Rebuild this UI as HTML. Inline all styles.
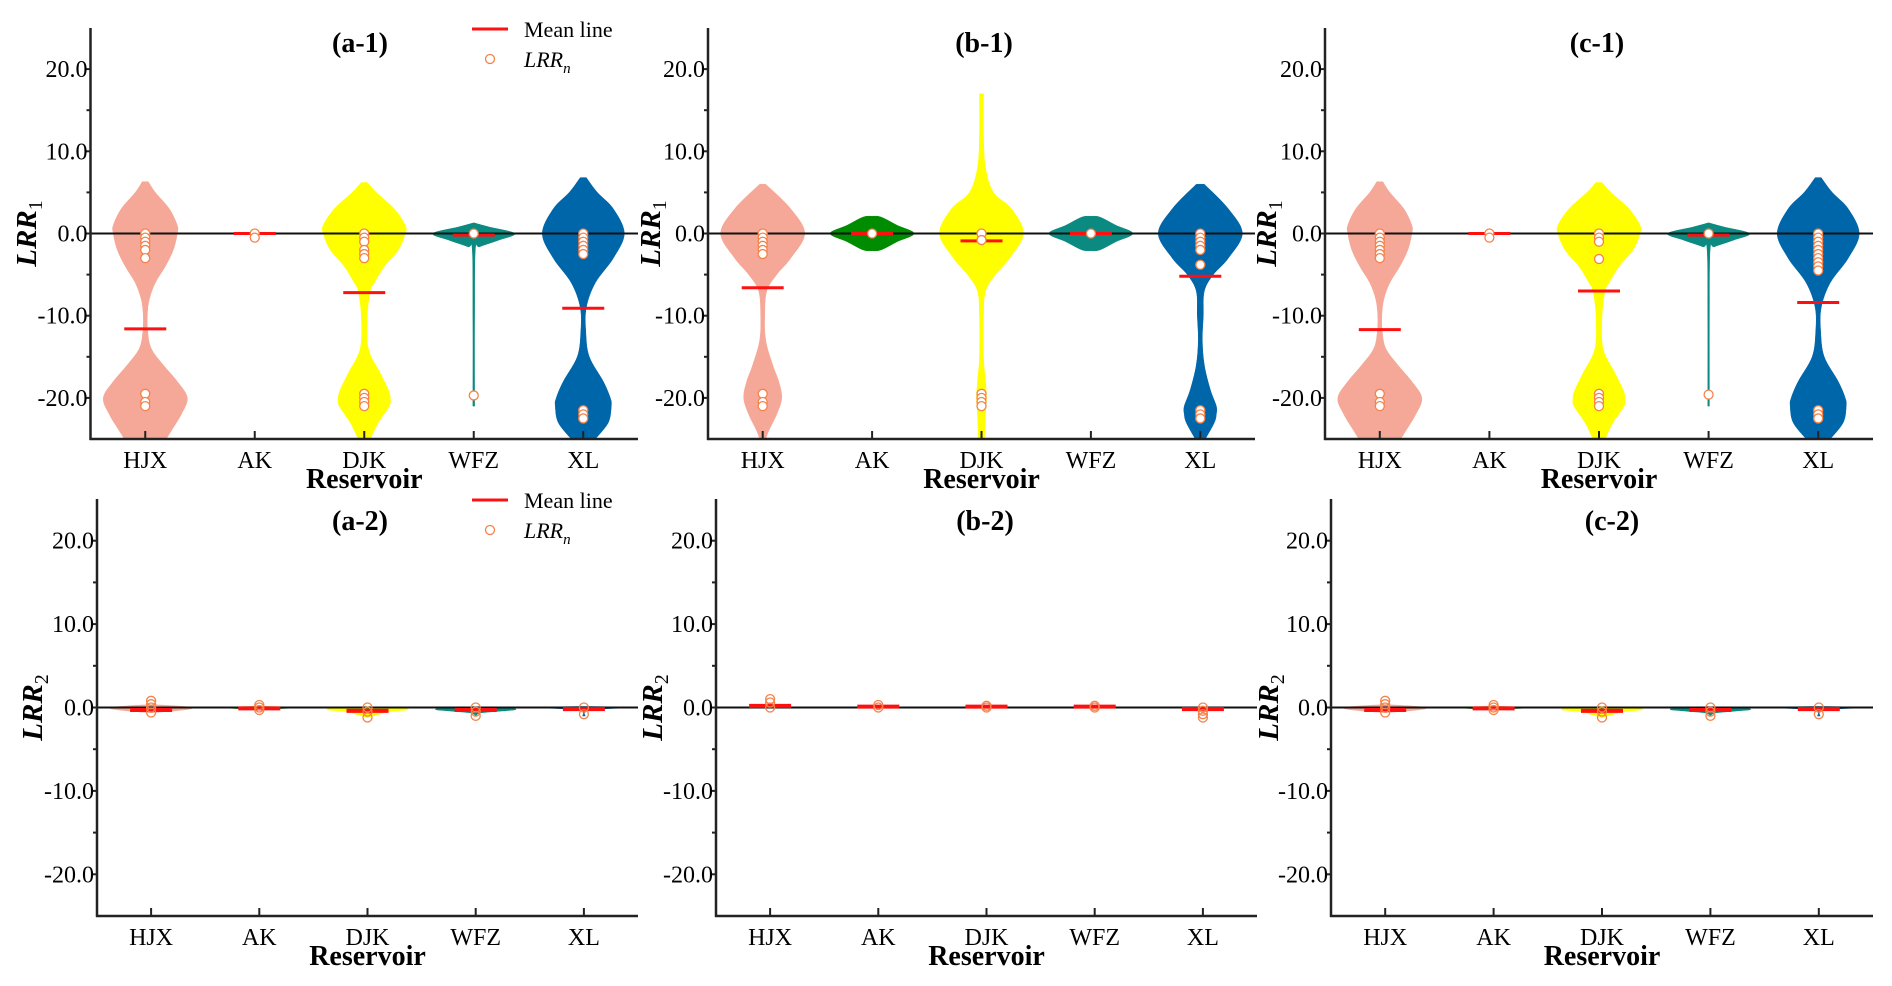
<!DOCTYPE html>
<html><head><meta charset="utf-8"><style>
html,body{margin:0;padding:0;background:#fff;}
svg{display:block;font-family:"Liberation Serif",serif;}
text{font-family:"Liberation Serif",serif;}
</style></head><body>
<svg id="fig" width="1892" height="986" viewBox="0 0 1892 986" xmlns="http://www.w3.org/2000/svg"></svg>
<script>
const categories = ["HJX","AK","DJK","WFZ","XL"];
const colors = ["#f5a898","#008c00","#ffff00","#0a8a80","#0066aa"];
const yTicks = [-20,-10,0,10,20];
const yMinorTicks = [-15,-5,5,15];

// ---- a-1 ----
const a1Means = [-11.6, 0, -7.2, -0.2, -9.1];
const a1Points = [[0,-0.5,-1,-1.5,-2,-3,-19.5,-20.5,-21],[0,-0.5],[0,-0.5,-1,-2,-2.5,-3,-19.5,-20,-20.5,-21],[0,-19.7],[0,-0.5,-1,-1.5,-2,-2.5,-21.5,-22,-22.5]];
const a1ProfV = [
 [6.3,5,3,1,0,-2,-4,-6,-8,-10,-12,-14,-16,-18,-20,-22,-24,-25],
 [],
 [6.2,5,3,1,0,-2,-4,-6,-7,-10,-14,-17,-19,-20,-21,-23,-25],
 [1.3,0.8,0,-0.8,-1.6,-2,-10,-21],
 [6.8,5,3,0,-3,-6,-9,-12,-15,-18,-20,-21,-23,-25]];
const a1ProfD = [
 [3,10,24,32,32,28,20,10,4,2,2.5,6,18,32,42,36,26,21],
 [],
 [3,12,30,41,41,34,20,10,6,3,4,16,24,26,25,14,6],
 [0,15,41,25,6,1.5,0.8,0.8],
 [3,14,30,41,30,12,3,2.5,6,20,27,28,25,12]];
// ---- b-1 ----
const b1Means = [-6.6, 0, -0.9, 0, -5.2];
const b1Points = [[0,-0.5,-1,-1.5,-2,-2.5,-19.5,-20.5,-21],[0],[0,-0.8,-19.5,-20,-20.5,-21],[0],[0,-0.5,-1,-1.5,-2,-3.8,-21.5,-22,-22.5]];
const b1ProfV = [
 [6,3,0,-3,-5,-7,-10,-13,-16,-18,-20,-22,-24,-25],
 [2.1,2,1,0,-1,-2,-2.1],
 [17,12,8,5,3,0,-3,-5,-7,-10,-15,-18,-20,-22,-25],
 [2.1,2,1,0,-1,-2,-2.1],
 [6,3,0,-3,-5,-7,-10,-13,-16,-19,-21,-22,-23,-25]];
const b1ProfD = [
 [3,28,42,28,14,4,2,3,10,16,19,14,6,3],
 [0,9,25,42,25,9,0],
 [2,2,4,12,30,42,28,14,4,2,2,4,5,4,3],
 [0,9,25,42,25,9,0],
 [4,28,42,28,13,4,3,2,4,10,16,16,14,5]];
// ---- c-1 ----
const c1Means = [-11.7, 0, -7, -0.2, -8.4];
const c1Points = [[0,-0.5,-1,-1.5,-2,-2.5,-3,-19.5,-20.5,-21],[0,-0.5],[0,-0.5,-1,-3.1,-19.5,-20,-20.5,-21],[0,-19.6],[0,-0.5,-1,-1.5,-2,-2.5,-3,-3.5,-4,-4.5,-21.5,-22,-22.5]];
const c1ProfV = a1ProfV;
const c1ProfD = a1ProfD;
// ---- a-2 ----
const a2Means = [-0.3, -0.1, -0.4, -0.3, -0.2];
const a2Points = [[0.8,0.4,0,-0.6],[0.3,0,-0.3],[0,-0.5,-1.2],[0,-0.5,-1],[0,-0.8]];
const a2ProfV = [[0.3,0,-0.3,-0.6],[0.1,0,-0.2],[0.1,-0.2,-0.5,-1.2],[0.1,-0.2,-0.6,-1],[0.1,0,-0.3,-1]];
const a2ProfD = [[5,40,30,0],[0,40,0],[0,40,20,0],[0,40,6,0],[0,40,3,1]];
// ---- b-2 ----
const b2Means = [0.2, 0.1, 0.1, 0.1, -0.2];
const b2Points = [[1,0.6,0],[0.3,0],[0.2,0],[0.2,0],[0,-0.4,-0.8,-1.2]];
const b2ProfV = [[],[],[],[],[]];
const b2ProfD = [[],[],[],[],[]];
// ---- c-2 ----
const c2Means = [-0.3, -0.1, -0.4, -0.3, -0.2];
const c2Points = [[0.8,0.4,0,-0.6],[0.3,0,-0.3],[0,-0.5,-1.2],[0,-0.5,-1],[0,-0.8]];
const c2ProfV = a2ProfV;
const c2ProfD = a2ProfD;

const panels = [
 {id:"a-1",sub:"1",x0:90.5,x1:638,top:28,bot:439,means:a1Means,pts:a1Points,pv:a1ProfV,pd:a1ProfD,tx:360,ty:52,lx:26,legend:true},
 {id:"b-1",sub:"1",x0:708,x1:1255,top:28,bot:439,means:b1Means,pts:b1Points,pv:b1ProfV,pd:b1ProfD,tx:984,ty:52,lx:650},
 {id:"c-1",sub:"1",x0:1325,x1:1873,top:28,bot:439,means:c1Means,pts:c1Points,pv:c1ProfV,pd:c1ProfD,tx:1597,ty:52,lx:1266},
 {id:"a-2",sub:"2",x0:97,x1:638,top:499,bot:916,means:a2Means,pts:a2Points,pv:a2ProfV,pd:a2ProfD,tx:360,ty:530,lx:32},
 {id:"b-2",sub:"2",x0:716,x1:1257,top:499,bot:916,means:b2Means,pts:b2Points,pv:b2ProfV,pd:b2ProfD,tx:985,ty:530,lx:652},
 {id:"c-2",sub:"2",x0:1331,x1:1873,top:499,bot:916,means:c2Means,pts:c2Points,pv:c2ProfV,pd:c2ProfD,tx:1612,ty:530,lx:1268}
];
panels[3].legend=true;

const NS="http://www.w3.org/2000/svg";
const svg=document.getElementById("fig");
const FF='"Liberation Serif", serif';
function mk(tag,attrs,parent){const e=document.createElementNS(NS,tag);for(const k in attrs)e.setAttribute(k,attrs[k]);if(tag==="text")e.setAttribute("font-family",FF);(parent||svg).appendChild(e);return e;}

function smoothPath(pts){
  let d="M"+pts[0][0].toFixed(1)+","+pts[0][1].toFixed(1);
  for(let i=0;i<pts.length-1;i++){
    const p0=pts[i-1]||pts[i],p1=pts[i],p2=pts[i+1],p3=pts[i+2]||p2;
    const c1=[p1[0]+(p2[0]-p0[0])/6,p1[1]+(p2[1]-p0[1])/6];
    const c2=[p2[0]-(p3[0]-p1[0])/6,p2[1]-(p3[1]-p1[1])/6];
    d+=" C"+c1[0].toFixed(1)+","+c1[1].toFixed(1)+" "+c2[0].toFixed(1)+","+c2[1].toFixed(1)+" "+p2[0].toFixed(1)+","+p2[1].toFixed(1);
  }
  return d;
}

panels.forEach((P,pi)=>{
  const g=mk("g",{});
  
  
  const yS=v=>P.top+(25-v)*(P.bot-P.top)/50;
  const band=(P.x1-P.x0)/categories.length;
  const xS=i=>P.x0+band*(i+0.5);
  const cp=mk("clipPath",{id:"clip"+pi},g);
  mk("rect",{x:P.x0,y:P.top,width:P.x1-P.x0,height:P.bot-P.top},cp);
  const plot=mk("g",{"clip-path":"url(#clip"+pi+")"},g);
  categories.forEach((c,i)=>{
    const vs=P.pv[i],ds=P.pd[i];
    if(!vs||vs.length<2)return;
    const right=vs.map((v,k)=>[xS(i)+ds[k],yS(v)]);
    const left=vs.map((v,k)=>[xS(i)-ds[k],yS(v)]).reverse();
    const d=smoothPath(right)+" L"+left[0][0].toFixed(1)+","+left[0][1].toFixed(1)+smoothPath(left).replace(/^M[^ ]+/,"")+" Z";
    const vp=mk("path",{d:d,fill:colors[i],stroke:colors[i],"stroke-width":P.sub==="2"?1:0.5},plot);
    
    
  });
  const zl=mk("line",{x1:P.x0,x2:P.x1,y1:yS(0),y2:yS(0),stroke:"#111","stroke-width":2},g);
  
  
  categories.forEach((c,i)=>{
    const ml=mk("line",{x1:xS(i)-21,x2:xS(i)+21,y1:yS(P.means[i]),y2:yS(P.means[i]),stroke:"#ff1010","stroke-width":P.sub==="2"?4:3},g);
    
    
  });
  categories.forEach((c,i)=>{
    P.pts[i].forEach(v=>{
      const pt=mk("circle",{cx:xS(i),cy:yS(v),r:4.5,fill:P.sub==="2"?"none":"#fff",stroke:"#f5824a","stroke-width":1.3},g);
      
      
    });
  });
  const ya=mk("line",{x1:P.x0,x2:P.x0,y1:P.top,y2:P.bot+1,stroke:"#222","stroke-width":2.5},g);
  
  
  const xa=mk("line",{x1:P.x0-1,x2:P.x1,y1:P.bot,y2:P.bot,stroke:"#222","stroke-width":2.5},g);
  
  
  yTicks.forEach(t=>{
    mk("line",{x1:P.x0-6,x2:P.x0,y1:yS(t),y2:yS(t),stroke:"#222","stroke-width":2},g);
    const tl=mk("text",{x:P.x0-3,y:yS(t)+8,"text-anchor":"end","font-size":24},g);
    tl.textContent=t.toFixed(1);
    
    
  });
  yMinorTicks.forEach(t=>{mk("line",{x1:P.x0-4,x2:P.x0,y1:yS(t),y2:yS(t),stroke:"#222","stroke-width":2},g);});
  categories.forEach((c,i)=>{
    mk("line",{x1:xS(i),x2:xS(i),y1:P.bot-8,y2:P.bot,stroke:"#222","stroke-width":2},g);
    const cl=mk("text",{x:xS(i),y:P.bot+29,"text-anchor":"middle","font-size":24},g);
    cl.textContent=c;
    
    
  });
  const xt=mk("text",{x:(P.x0+P.x1)/2,y:P.bot+49,"text-anchor":"middle","font-size":28,"font-weight":"bold"},g);
  xt.textContent="Reservoir";
  
  
  const yt=mk("text",{x:0,y:0,"text-anchor":"middle","font-size":29,"font-weight":"bold",transform:"translate("+(P.lx+10)+","+yS(0)+") rotate(-90)"},g);
  yt.innerHTML='<tspan font-style="italic">LRR</tspan><tspan font-size="20" font-weight="normal" dy="6">'+P.sub+'</tspan>';
  
  
  const tt=mk("text",{x:P.tx,y:P.ty,"text-anchor":"middle","font-size":28,"font-weight":"bold"},g);
  tt.textContent="("+P.id+")";
  
  
  if(P.legend){
    const lg=mk("g",{},g);
    
    
    const ly=P.top;
    mk("line",{x1:472,x2:508,y1:ly+1,y2:ly+1,stroke:"#ff1010","stroke-width":3},lg);
    const t1=mk("text",{x:524,y:ly+9,"font-size":22},lg);
    t1.textContent="Mean line";
    
    
    mk("circle",{cx:490,cy:ly+31,r:4.5,fill:"none",stroke:"#f5824a","stroke-width":1.3},lg);
    const t2=mk("text",{x:524,y:ly+39,"font-size":22,"font-style":"italic"},lg);
    t2.innerHTML='LRR<tspan font-size="15" dy="6">n</tspan>';
    
    
  }
});
</script>
</body></html>
